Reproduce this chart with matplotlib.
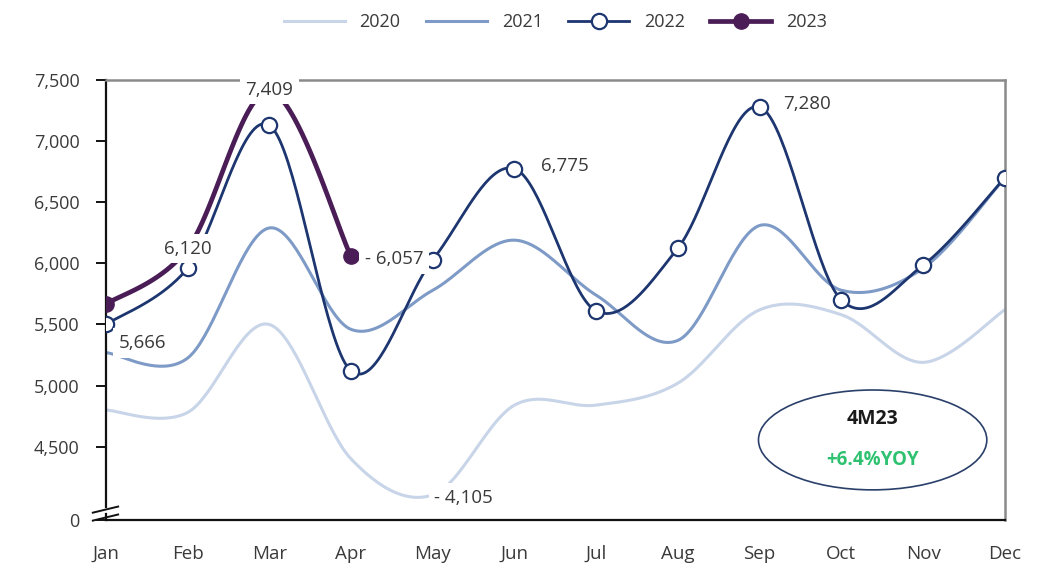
import numpy as np
import matplotlib.pyplot as plt
from matplotlib.patches import Ellipse

# ---------------------------------------------------------------------------
# data
# ---------------------------------------------------------------------------
months = ["Jan", "Feb", "Mar", "Apr", "May", "Jun",
          "Jul", "Aug", "Sep", "Oct", "Nov", "Dec"]
y2020 = [4800, 4780, 5500, 4400, 4105, 4840, 4840, 5020, 5620, 5580, 5190, 5620]
y2021 = [5270, 5225, 6290, 5460, 5780, 6190, 5740, 5370, 6310, 5780, 5960, 6700]
y2022 = [5500, 5960, 7130, 5120, 6030, 6775, 5610, 6125, 7280, 5700, 5985, 6700]
y2023 = [5666, 6120, 7409, 6057]

yticks = [3900, 4500, 5000, 5500, 6000, 6500, 7000, 7500]
ytick_labels = ["0", "4,500", "5,000", "5,500", "6,000", "6,500", "7,000", "7,500"]

# (month index, series, value text, x offset px, y offset px, ha)
labels = [
    (0, y2023, "5,666", 9, -28, "left"),
    (1, y2023, "6,120", 0, 0, "center"),
    (2, y2023, "7,409", 0, 1, "center"),
    (3, y2023, "- 6,057", 10, -2, "left"),
    (4, y2020, "- 4,105", 1, -2, "left"),
    (5, y2022, "6,775", 19, 2, "left"),
    (8, y2022, "7,280", 17, 2, "left"),
]

C2020 = "#c8d4e8"
C2021 = "#7e9ac6"
C2022 = "#1d3670"
C2023 = "#4a1d57"
TXT = "#3a3a3a"

plt.rcParams['font.family'] = ['Open Sans', 'DejaVu Sans']


def smooth(xs, ys, n=40):
    # Excel style smoothed line: Catmull-Rom converted to cubic Bezier
    xs = np.asarray(xs, float)
    ys = np.asarray(ys, float)
    px = np.concatenate([[xs[0]], xs, [xs[-1]]])
    py = np.concatenate([[ys[0]], ys, [ys[-1]]])
    t = np.linspace(0, 1, n)
    outx, outy = [], []
    for i in range(1, len(px) - 2):
        x0, x1, x2, x3 = px[i - 1], px[i], px[i + 1], px[i + 2]
        y0, y1, y2, y3 = py[i - 1], py[i], py[i + 1], py[i + 2]
        cx1, cy1 = x1 + (x2 - x0) / 6, y1 + (y2 - y0) / 6
        cx2, cy2 = x2 - (x3 - x1) / 6, y2 - (y3 - y1) / 6
        bx = (1 - t) ** 3 * x1 + 3 * (1 - t) ** 2 * t * cx1 + 3 * (1 - t) * t ** 2 * cx2 + t ** 3 * x2
        by = (1 - t) ** 3 * y1 + 3 * (1 - t) ** 2 * t * cy1 + 3 * (1 - t) * t ** 2 * cy2 + t ** 3 * y2
        outx.append(bx)
        outy.append(by)
    return np.concatenate(outx), np.concatenate(outy)


fig = plt.figure(figsize=(10.38, 5.68), dpi=100)
ax = fig.add_axes([0.102, 0.0845, 0.866, 0.7745])

x = np.arange(len(months))
for ys, col, lw in [(y2020, C2020, 2.2), (y2021, C2021, 2.2)]:
    sx, sy = smooth(x, ys)
    ax.plot(sx, sy, color=col, lw=lw, zorder=2)

sx, sy = smooth(x, y2022)
ax.plot(sx, sy, color=C2022, lw=2.0, zorder=3)
ax.plot(x, y2022, 'o', ms=11, mfc="white", mec=C2022, mew=1.6, zorder=4)

x23 = np.arange(len(y2023))
sx, sy = smooth(x23, y2023)
ax.plot(sx, sy, color=C2023, lw=3.4, zorder=5)
ax.plot(x23, y2023, 'o', ms=11, color=C2023, zorder=6)

for i, ys, txt, dx, dy, ha in labels:
    ax.annotate(txt, (x[i], ys[i]), xytext=(dx, dy), textcoords="offset points",
                ha=ha, va="center", fontsize=13.5, color=TXT, zorder=7,
                bbox=dict(boxstyle="square,pad=0.3", fc="white", ec="none"))

ax.set_xlim(0, 11)
ax.set_ylim(3900, 7500)
ax.set_xticks(x)
ax.set_xticklabels(months)
ax.set_yticks(yticks)
ax.set_yticklabels(ytick_labels)
ax.tick_params(axis="x", length=0, pad=18, labelsize=13.5, labelcolor=TXT)
ax.tick_params(axis="y", length=7, width=1.3, pad=12, labelsize=13, labelcolor=TXT)

for s in ["left", "bottom"]:
    ax.spines[s].set_color("#111111")
    ax.spines[s].set_linewidth(1.6)
for s in ["top", "right"]:
    ax.spines[s].set_color("#8a8a8a")
    ax.spines[s].set_linewidth(1.8)

# axis break marks
ax.spines["left"].set_bounds(4010, 7500)
ax.plot([0, 0], [3900, 3950], color="#111111", lw=1.6, clip_on=False, zorder=8)
for yb in [3985, 3920]:
    ax.plot([-0.16, 0.15], [yb - 25, yb + 25], color="#111111", lw=1.4,
            clip_on=False, zorder=8)

# 4M23 callout
ell = Ellipse((0.853, 0.182), 0.254, 0.227, transform=ax.transAxes,
              fc="white", ec="#2a3f6a", lw=1.2, zorder=6)
ax.add_patch(ell)
ax.text(0.853, 0.23, "4M23", transform=ax.transAxes, ha="center", va="center",
        fontsize=14, fontweight="bold", color="#1a1a1a", zorder=7)
ax.text(0.853, 0.136, "+6.4%YOY", transform=ax.transAxes, ha="center", va="center",
        fontsize=13.5, fontweight="bold", color="#2ec270", zorder=7)

# legend
h20, = ax.plot([], [], color=C2020, lw=2.2)
h21, = ax.plot([], [], color=C2021, lw=2.2)
h22, = ax.plot([], [], color=C2022, lw=2.0, marker='o', ms=11, mfc="white", mew=1.6)
h23, = ax.plot([], [], color=C2023, lw=3.4, marker='o', ms=11)
fig.legend([h20, h21, h22, h23], ["2020", "2021", "2022", "2023"],
           loc="upper center", bbox_to_anchor=(0.535, 1.005), ncol=4, frameon=False,
           fontsize=13, handlelength=3.4, columnspacing=1.4, handletextpad=0.8,
           labelcolor=TXT)

plt.savefig("out.png", dpi=100)
